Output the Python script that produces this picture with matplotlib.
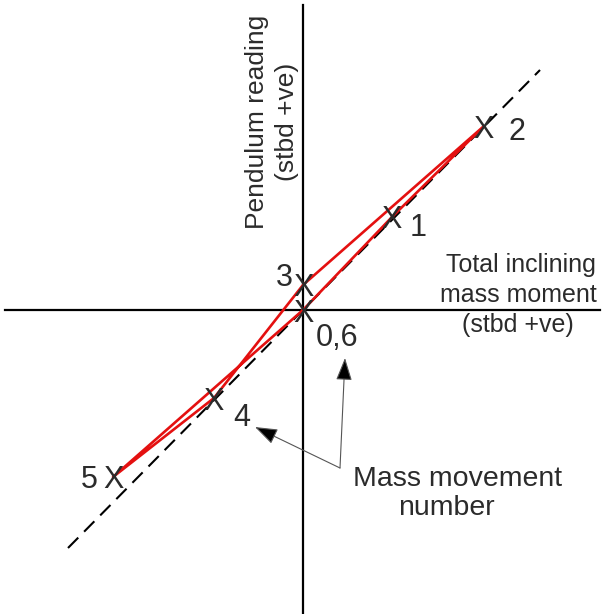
import matplotlib.pyplot as plt

# inclining experiment: mass movement number vs readings (units ~ px on the sketch)
moves = ['0,6', '1', '2', '3', '4', '5', '6']
moment = [0, 89, 181, 0, -89, -190, 0]
pendulum = [0, 93, 184, 25, -88, -167, 0]

# which moves get a label (6 shares the 0 position)
label_idx = [0, 1, 2, 3, 4, 5]
label_dx = [34, 26, 33, -19, 28, -24]
label_dy = [-24, -7, -2, 10, -17, 0]

# reference line through the origin
ref_x = [-235, 237]
ref_y = [-238, 240]

txt = '#2b2b2b'
plt.rcParams['font.family'] = ['Liberation Sans', 'DejaVu Sans']

fig = plt.figure(figsize=(6.06, 6.14), dpi=100)
ax = fig.add_axes([0, 0, 1, 1])
ax.set_xlim(-303, 303)
ax.set_ylim(-304, 310)
ax.axis('off')

# axes cross
ax.plot([-298, 297], [0, 0], color='black', lw=1.6, zorder=1)
ax.plot([0, 0], [305, -304], color='black', lw=1.6, zorder=1)

ax.plot(ref_x, ref_y, color='black', lw=1.5, ls=(0, (7, 4)), zorder=2)
ax.plot(moment, pendulum, color='#e41010', lw=1.9, zorder=3)

cap = 11.5  # half cap height in px for 22pt glyphs
for i in label_idx:
    ax.text(moment[i], pendulum[i] - cap, 'X', ha='center', va='baseline',
            fontsize=22, color=txt, zorder=4)
for i, dx, dy in zip(label_idx, label_dx, label_dy):
    ax.text(moment[i] + dx, pendulum[i] + dy - cap, moves[i], ha='center',
            va='baseline', fontsize=22, color=txt, zorder=4)

# axis titles
ax.text(-46, 188, 'Pendulum reading', rotation=90, ha='center', va='center',
        fontsize=19, color=txt)
ax.text(-16, 188, '(stbd +ve)', rotation=90, ha='center', va='center',
        fontsize=19, color=txt)
ax.text(218, 38, 'Total inclining', ha='center', va='baseline', fontsize=18, color=txt)
ax.text(215, 8, 'mass moment', ha='center', va='baseline', fontsize=18, color=txt)
ax.text(215, -22, '(stbd +ve)', ha='center', va='baseline', fontsize=18, color=txt)

ax.text(155, -176, 'Mass movement', ha='center', va='baseline', fontsize=20.5, color=txt)
ax.text(143, -205, 'number', ha='center', va='baseline', fontsize=20.5, color=txt)

arrow = dict(arrowstyle='-|>,head_length=0.7,head_width=0.25', lw=0.8, ec='#555555',
             fc='black', mutation_scale=20, shrinkA=0, shrinkB=0)
ax.annotate('', xy=(42, -48), xytext=(37, -158), arrowprops=arrow)
ax.annotate('', xy=(-48, -117), xytext=(37, -158), arrowprops=arrow)

fig.savefig('out.png', dpi=100)
